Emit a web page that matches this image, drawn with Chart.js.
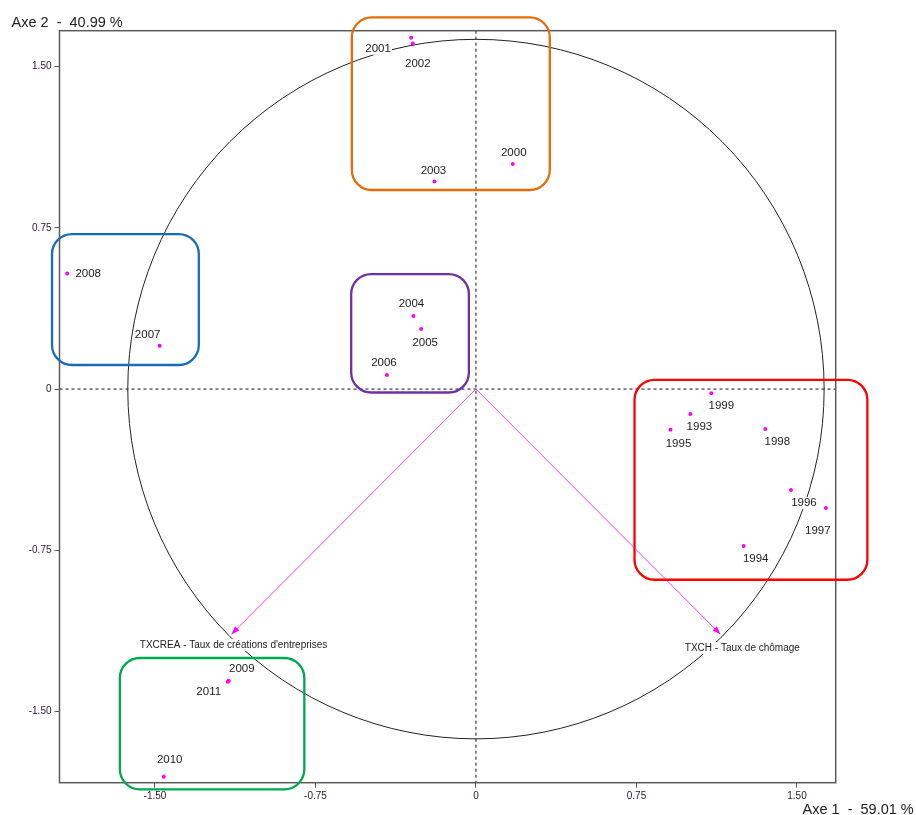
<!DOCTYPE html>
<html>
<head>
<meta charset="utf-8">
<script src="https://cdn.jsdelivr.net/npm/chart.js@4"></script>
<style>
  html, body { margin: 0; padding: 0; background: #fff; }
  canvas { display: block; }
</style>
</head>
<body>
<canvas id="myChart" width="916" height="815"></canvas>
<script>
// individus (années) sur le plan factoriel
const years = ['1993', '1994', '1995', '1996', '1997', '1998', '1999', '2000', '2001', '2002',
    '2003', '2004', '2005', '2006', '2007', '2008', '2009', '2010', '2011'];
const axis1 = [1.002, 1.251, 0.909, 1.472, 1.635, 1.352, 1.100, 0.172, -0.303, -0.295,
    -0.194, -0.292, -0.256, -0.416, -1.478, -1.910, -1.155, -1.459, -1.160];
const axis2 = [-0.116, -0.730, -0.189, -0.470, -0.553, -0.186, -0.019, 1.047, 1.634, 1.608,
    0.966, 0.340, 0.280, 0.065, 0.201, 0.538, -1.357, -1.803, -1.362];

// variables (cercle des corrélations)
const variables = ["TXCREA - Taux de créations d'entreprises", 'TXCH - Taux de chômage'];
const varAxis1 = [-1.142, 1.142];
const varAxis2 = [-1.140, -1.140];
const circleRadius = 1.627;

const tickValues = [-1.5, -0.75, 0, 0.75, 1.5];
const axisTitles = ['Axe 1  -  59.01 %', 'Axe 2  -  40.99 %'];

// placement des étiquettes (px, relatif au point)
const yearLabelOffsets = [[9, 13], [12, 13], [8, 14], [13, 13], [-8, 23], [12, 13], [10, 13],
    [1, -11], [-33, 11], [5, 20], [-1, -11], [-2, -12], [4, 14], [-3, -12], [-12, -11],
    [21, 0], [13, -12], [6, -17], [-19, 10]];
const varLabelOffsets = [[2, 11], [22, 14]];

// encadrés des groupes, en unités des axes : x1, y1, x2, y2
const groupBoxes = [
    { color: '#E46C0A', box: [-0.580, 1.729, 0.345, 0.926] },
    { color: '#1A6DB4', box: [-1.981, 0.721, -1.295, 0.112] },
    { color: '#7030A0', box: [-0.583, 0.535, -0.033, -0.016] },
    { color: '#FF0000', box: [0.741, 0.043, 1.829, -0.887] },
    { color: '#00A84F', box: [-1.664, -1.251, -0.802, -1.862] }
];

const FONT = '"Liberation Sans", Arial, sans-serif';
const MAGENTA = '#FF00FF';

const pcaDecor = {
    id: 'pcaDecor',
    beforeDatasetsDraw(chart) {
        const { ctx, chartArea: a, scales: { x, y } } = chart;
        const x0 = x.getPixelForValue(0);
        const y0 = y.getPixelForValue(0);
        ctx.save();

        // axes pointillés
        ctx.strokeStyle = '#111';
        ctx.lineWidth = 1;
        ctx.setLineDash([3, 3]);
        ctx.beginPath();
        ctx.moveTo(x0, a.top);
        ctx.lineTo(x0, a.bottom);
        ctx.moveTo(a.left, y0);
        ctx.lineTo(a.right, y0);
        ctx.stroke();
        ctx.setLineDash([]);

        // cercle
        const rx = x.getPixelForValue(circleRadius) - x0;
        const ry = y0 - y.getPixelForValue(circleRadius);
        ctx.strokeStyle = '#222';
        ctx.beginPath();
        ctx.ellipse(x0, y0, rx, ry, 0, 0, Math.PI * 2);
        ctx.stroke();

        ctx.textAlign = 'center';
        ctx.textBaseline = 'middle';

        // étiquettes des années
        ctx.font = '11.5px ' + FONT;
        for (let i = 0; i < years.length; i++) {
            const px = x.getPixelForValue(axis1[i]) + yearLabelOffsets[i][0];
            const py = y.getPixelForValue(axis2[i]) + yearLabelOffsets[i][1];
            const w = ctx.measureText(years[i]).width;
            ctx.fillStyle = '#fff';
            ctx.fillRect(px - w / 2 - 1, py - 6, w + 2, 12);
            ctx.fillStyle = '#222';
            ctx.fillText(years[i], px, py);
        }

        // étiquettes des variables
        ctx.font = '10px ' + FONT;
        for (let i = 0; i < variables.length; i++) {
            const px = x.getPixelForValue(varAxis1[i]) + varLabelOffsets[i][0];
            const py = y.getPixelForValue(varAxis2[i]) + varLabelOffsets[i][1];
            const w = ctx.measureText(variables[i]).width;
            ctx.fillStyle = '#fff';
            ctx.fillRect(px - w / 2 - 2, py - 6, w + 4, 12);
            ctx.fillStyle = '#222';
            ctx.fillText(variables[i], px, py);
        }
        ctx.restore();
    },
    afterDatasetsDraw(chart) {
        const { ctx, scales: { x, y } } = chart;
        const x0 = x.getPixelForValue(0);
        const y0 = y.getPixelForValue(0);
        ctx.save();
        ctx.fillStyle = MAGENTA;
        for (let i = 0; i < variables.length; i++) {
            const tx = x.getPixelForValue(varAxis1[i]);
            const ty = y.getPixelForValue(varAxis2[i]);
            const ang = Math.atan2(ty - y0, tx - x0);
            const len = 8, half = 3;
            const bx = tx - len * Math.cos(ang), by = ty - len * Math.sin(ang);
            ctx.beginPath();
            ctx.moveTo(tx, ty);
            ctx.lineTo(bx + half * Math.sin(ang), by - half * Math.cos(ang));
            ctx.lineTo(bx - half * Math.sin(ang), by + half * Math.cos(ang));
            ctx.closePath();
            ctx.fill();
        }
        ctx.restore();
    },
    afterDraw(chart) {
        const { ctx, chartArea: a, scales: { x, y } } = chart;
        ctx.save();

        // cadre
        ctx.strokeStyle = '#5a5a5a';
        ctx.lineWidth = 1.5;
        ctx.strokeRect(a.left, a.top, a.right - a.left, a.bottom - a.top);

        // encadrés
        ctx.lineWidth = 2.3;
        groupBoxes.forEach(g => {
            const x1 = x.getPixelForValue(g.box[0]), y1 = y.getPixelForValue(g.box[1]);
            const x2 = x.getPixelForValue(g.box[2]), y2 = y.getPixelForValue(g.box[3]);
            ctx.strokeStyle = g.color;
            ctx.beginPath();
            ctx.roundRect(x1, y1, x2 - x1, y2 - y1, 20);
            ctx.stroke();
        });

        // titres des axes
        ctx.fillStyle = '#222';
        ctx.font = '14.5px ' + FONT;
        ctx.textBaseline = 'alphabetic';
        ctx.textAlign = 'left';
        ctx.fillText(axisTitles[1], 11.5, 26.5);
        ctx.fillText(axisTitles[0], 802.5, 814);
        ctx.restore();
    }
};

const axisCommon = {
    type: 'linear',
    afterBuildTicks: scale => {
        scale.ticks = tickValues.map(v => ({ value: v }));
    },
    grid: {
        drawOnChartArea: false,
        drawTicks: true,
        tickLength: 5,
        color: '#555',
        lineWidth: 1
    },
    border: { display: false },
    ticks: {
        padding: 3,
        color: '#2a1833',
        font: { size: 10, family: FONT },
        callback: v => v === 0 ? '0' : v.toFixed(2)
    }
};

const ctx = document.getElementById('myChart');

new Chart(ctx, {
    type: 'scatter',
    data: {
        datasets: [{
            label: 'Années',
            data: years.map((yr, i) => ({ x: axis1[i], y: axis2[i] })),
            backgroundColor: MAGENTA,
            borderColor: MAGENTA,
            pointRadius: 2,
            borderWidth: 0
        }].concat(variables.map((v, i) => ({
            label: v,
            data: [{ x: 0, y: 0 }, { x: varAxis1[i], y: varAxis2[i] }],
            showLine: true,
            borderColor: '#FF33FF',
            borderWidth: 1,
            pointRadius: 0
        })))
    },
    options: {
        responsive: false,
        animation: false,
        layout: { padding: { top: 30.7, right: 80.3, left: 0, bottom: 0 } },
        plugins: {
            legend: { display: false },
            tooltip: { enabled: false }
        },
        scales: {
            x: Object.assign({}, axisCommon, {
                position: 'bottom',
                min: -1.946,
                max: 1.681,
                afterFit: s => { s.height = 32.3; }
            }),
            y: Object.assign({}, axisCommon, {
                position: 'left',
                min: -1.831,
                max: 1.667,
                afterFit: s => { s.width = 59.5; }
            })
        }
    },
    plugins: [pcaDecor]
});
</script>
</body>
</html>
